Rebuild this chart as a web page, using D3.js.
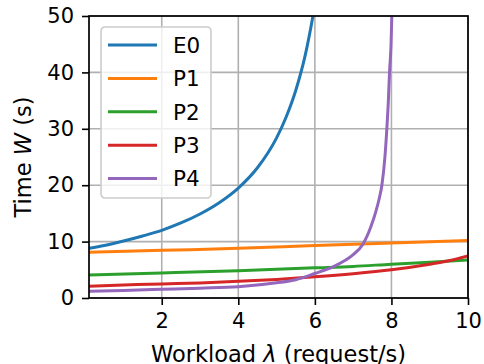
<!DOCTYPE html>
<html>
<head>
<meta charset="utf-8">
<script src="https://cdn.jsdelivr.net/npm/d3@7"></script>
<style>
  html, body { margin: 0; padding: 0; background: #fff; }
  text { font-family: "DejaVu Sans", sans-serif; fill: #000; }
</style>
</head>
<body>
<div id="chart"></div>
<script>
// series (x = workload, y = time)
const seriesNames = ['E0', 'P1', 'P2', 'P3', 'P4'];
const seriesColors = ['#1f77b4', '#ff7f0e', '#2ca02c', '#d62728', '#9467bd'];

const e0X = [0.1, 0.5, 1, 1.5, 2, 2.5, 3, 3.5, 4, 4.5, 5, 5.25, 5.5, 5.75, 5.96, 6.05];
const e0Y = [8.8, 9.3, 10.1, 11.0, 12.0, 13.3, 14.9, 16.9, 19.5, 23.1, 28.4, 32.1, 36.8, 43.1, 50.4, 54];

const p1X = [0.1, 2, 4, 6, 8, 10];
const p1Y = [8.1, 8.45, 8.8, 9.3, 9.75, 10.2];

const p2X = [0.1, 2, 4, 6, 7, 8, 9, 10];
const p2Y = [4.1, 4.45, 4.85, 5.35, 5.6, 6.0, 6.35, 6.75];

const p3X = [0.1, 1, 2, 3, 4, 5, 6, 7, 8, 9, 9.5, 10];
const p3Y = [2.1, 2.3, 2.5, 2.68, 2.95, 3.3, 3.75, 4.3, 5.0, 6.0, 6.6, 7.45];

const p4X = [0.1, 1, 2, 3, 4, 5, 5.5, 6, 6.5, 6.75, 7.0, 7.25, 7.46, 7.6, 7.68, 7.75, 7.83, 7.88, 7.92, 7.95, 7.99, 8.01, 8.04];
const p4Y = [1.2, 1.35, 1.55, 1.75, 2.0, 2.7, 3.25, 4.35, 5.6, 6.5, 7.7, 9.5, 12.6, 15.5, 17.6, 20, 25, 30, 35, 40, 45, 50, 55];

const xTicks = [2, 4, 6, 8, 10];
const yTicks = [0, 10, 20, 30, 40, 50];

const seriesX = [e0X, p1X, p2X, p3X, p4X];
const seriesY = [e0Y, p1Y, p2Y, p3Y, p4Y];

const width = 484, height = 364;
const margin = { top: 16, right: 16, bottom: 66, left: 89 };

const svg = d3.select('#chart').append('svg')
  .attr('width', width)
  .attr('height', height);

const x = d3.scaleLinear().domain([0.1, 10]).range([margin.left, width - margin.right]);
const y = d3.scaleLinear().domain([0, 50]).range([height - margin.bottom, margin.top]);

// Grid
const grid = svg.append('g');
xTicks.forEach(t => {
  grid.append('line')
    .attr('x1', x(t)).attr('x2', x(t))
    .attr('y1', y(0)).attr('y2', y(50))
    .attr('stroke', '#b0b0b0').attr('stroke-width', 1.6);
});
yTicks.forEach(t => {
  grid.append('line')
    .attr('x1', x(0.1)).attr('x2', x(10))
    .attr('y1', y(t)).attr('y2', y(t))
    .attr('stroke', '#b0b0b0').attr('stroke-width', 1.6);
});

// Lines
svg.append('defs').append('clipPath').attr('id', 'plot-clip')
  .append('rect')
  .attr('x', x(0.1)).attr('y', y(50))
  .attr('width', x(10) - x(0.1)).attr('height', y(0) - y(50));

const line = d3.line()
  .x(d => x(d[0]))
  .y(d => y(d[1]))
  .curve(d3.curveMonotoneX);

const lines = svg.append('g').attr('clip-path', 'url(#plot-clip)');
seriesNames.forEach((name, i) => {
  const pts = seriesX[i].map((v, k) => [v, seriesY[i][k]]);
  lines.append('path')
    .datum(pts)
    .attr('fill', 'none')
    .attr('stroke', seriesColors[i])
    .attr('stroke-width', 3)
    .attr('d', line);
});

// Axes
const xAxis = svg.append('g')
  .attr('transform', `translate(0,${y(0)})`)
  .call(d3.axisBottom(x).tickValues(xTicks).tickSize(7).tickPadding(8).tickFormat(d3.format('d')));
const yAxis = svg.append('g')
  .attr('transform', `translate(${x(0.1)},0)`)
  .call(d3.axisLeft(y).tickValues(yTicks).tickSize(7).tickPadding(8).tickFormat(d3.format('d')));

[xAxis, yAxis].forEach(a => {
  a.selectAll('text').attr('font-size', 21).attr('font-family', 'DejaVu Sans');
  a.selectAll('line').attr('stroke', '#000').attr('stroke-width', 1.6);
  a.select('.domain').remove();
});

// Frame
svg.append('rect')
  .attr('x', x(0.1)).attr('y', y(50))
  .attr('width', x(10) - x(0.1)).attr('height', y(0) - y(50))
  .attr('fill', 'none').attr('stroke', '#000').attr('stroke-width', 1.7);

// Axis labels
const xl = svg.append('text')
  .attr('x', (x(0.1) + x(10)) / 2)
  .attr('y', 362)
  .attr('text-anchor', 'middle')
  .attr('font-size', 22.5);
xl.append('tspan').text('Workload ');
xl.append('tspan').attr('font-style', 'italic').text('λ');
xl.append('tspan').text(' (request/s)');

const yl = svg.append('text')
  .attr('transform', `translate(31,${(y(0) + y(50)) / 2}) rotate(-90)`)
  .attr('text-anchor', 'middle')
  .attr('font-size', 22.5);
yl.append('tspan').text('Time ');
yl.append('tspan').attr('font-style', 'italic').text('W');
yl.append('tspan').text(' (s)');

// Legend
const legend = svg.append('g').attr('transform', 'translate(101,27)');
legend.append('rect')
  .attr('width', 110).attr('height', 171)
  .attr('rx', 4)
  .attr('fill', '#fff').attr('fill-opacity', 0.8)
  .attr('stroke', '#cccccc').attr('stroke-width', 1.6);

seriesNames.forEach((name, i) => {
  const ry = 18 + i * 33.4;
  legend.append('line')
    .attr('x1', 7).attr('x2', 56)
    .attr('y1', ry).attr('y2', ry)
    .attr('stroke', seriesColors[i]).attr('stroke-width', 3);
  legend.append('text')
    .attr('x', 72).attr('y', ry)
    .attr('dy', '0.36em')
    .attr('font-size', 21.5)
    .text(name);
});
</script>
</body>
</html>
